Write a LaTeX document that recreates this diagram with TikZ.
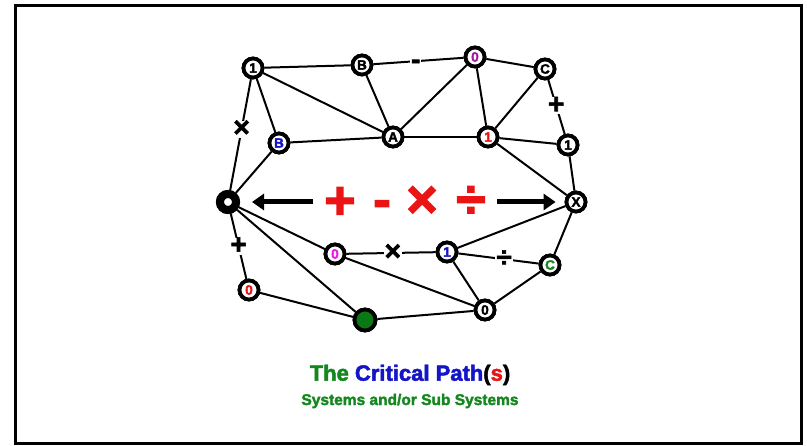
\documentclass[tikz,border=0pt]{standalone}
\usepackage{fontspec}
\setmainfont{Liberation Sans}[BoldFeatures={FakeBold=2.2}]
\usetikzlibrary{arrows.meta}
\definecolor{cpgreen}{RGB}{20,135,30}
\definecolor{cpblue}{RGB}{20,20,200}
\definecolor{cpred}{RGB}{235,20,20}
\definecolor{cppurple}{RGB}{160,30,160}
\definecolor{cpmagenta}{RGB}{240,20,240}
\definecolor{cpdkgreen}{RGB}{10,120,20}
\begin{document}
\begin{tikzpicture}[x=1pt,y=-1pt,
  vtx/.style={circle,draw=black,line width=3.8pt,fill=white,minimum size=19pt,inner sep=0pt,
    font=\fontsize{13.5}{13.5}\selectfont\bfseries},
  startvtx/.style={circle,draw=black,line width=8pt,fill=white,minimum size=16pt,inner sep=0pt},
  greenvtx/.style={circle,draw=black,line width=3.8pt,fill=cpdkgreen,minimum size=21pt,inner sep=0pt},
  edge/.style={line width=2pt},
  oplab/.style={fill=white,inner sep=1pt,font=\fontsize{28}{28}\selectfont\bfseries,
    text height=15pt,text depth=0pt},
  bigop/.style={text=cpred,inner sep=0pt,font=\fontsize{54}{54}\selectfont\bfseries},
  bigarrow/.style={line width=5pt,-{Triangle[length=12pt,width=16pt]}}
]
\useasboundingbox (0,0) rectangle (807,446);
\fill[white] (0,0) rectangle (807,446);
\draw[line width=3pt] (15.5,5.5) rectangle (801.5,443.5);

% nodes
\node[vtx] (t1) at (253,68) {1};
\node[vtx] (tB) at (362,65) {B};
\node[vtx,text=cppurple] (t0) at (475,57) {0};
\node[vtx] (tC) at (545,69) {C};
\node[vtx,text=cpblue] (mB) at (279,143) {B};
\node[vtx] (mA) at (393,137) {A};
\node[vtx,text=cpred] (m1) at (488,137) {1};
\node[vtx] (r1) at (568,145) {1};
\node[startvtx] (s) at (228,202) {};
\node[vtx] (x) at (576,202) {X};
\node[vtx,text=cpmagenta] (b0m) at (335,254) {0};
\node[vtx,text=cpblue] (b1) at (447,252) {1};
\node[vtx,text=cpgreen] (bC) at (550,265) {C};
\node[vtx,text=cpred] (b0r) at (249,290) {0};
\node[greenvtx] (g) at (365,320) {};
\node[vtx] (b0) at (485,310) {0};

% edges
\draw[edge] (t1) -- (tB);
\draw[edge] (tB) -- node[oplab,pos=0.47]{-} (t0);
\draw[edge] (t0) -- (tC);
\draw[edge] (t1) -- (mB);
\draw[edge] (t1) -- (mA);
\draw[edge] (tB) -- (mA);
\draw[edge] (t0) -- (mA);
\draw[edge] (t0) -- (m1);
\draw[edge] (tC) -- (m1);
\draw[edge] (tC) -- node[oplab,pos=0.48]{+} (r1);
\draw[edge] (mB) -- (mA);
\draw[edge] (mA) -- (m1);
\draw[edge] (m1) -- (r1);
\draw[edge] (m1) -- (x);
\draw[edge] (r1) -- (x);
\draw[edge] (t1) -- node[oplab,pos=0.45]{×} (s);
\draw[edge] (mB) -- (s);
\draw[edge] (s) -- node[oplab,pos=0.5]{+} (b0r);
\draw[edge] (s) -- (b0m);
\draw[edge] (s) -- (g);
\draw[edge] (b0m) -- node[oplab,pos=0.52]{×} (b1);
\draw[edge] (b1) -- node[oplab,pos=0.57]{÷} (bC);
\draw[edge] (b1) -- (x);
\draw[edge] (bC) -- (x);
\draw[edge] (b0m) -- (b0);
\draw[edge] (b1) -- (b0);
\draw[edge] (b0) -- (bC);
\draw[edge] (b0r) -- (g);
\draw[edge] (g) -- (b0);

% redraw nodes on top of edge ends
\node[vtx] at (t1) {1};
\node[vtx] at (tB) {B};
\node[vtx,text=cppurple] at (t0) {0};
\node[vtx] at (tC) {C};
\node[vtx,text=cpblue] at (mB) {B};
\node[vtx] at (mA) {A};
\node[vtx,text=cpred] at (m1) {1};
\node[vtx] at (r1) {1};
\node[startvtx] at (s) {};
\node[vtx] at (x) {X};
\node[vtx,text=cpmagenta] at (b0m) {0};
\node[vtx,text=cpblue] at (b1) {1};
\node[vtx,text=cpgreen] at (bC) {C};
\node[vtx,text=cpred] at (b0r) {0};
\node[greenvtx] at (g) {};
\node[vtx] at (b0) {0};

% central operators
\node[bigop] (op1) at (340,203) {+};
\node[bigop] (op2) at (382,209) {-};
\node[bigop] (op3) at (422,202) {×};
\node[bigop] (op4) at (471,202) {÷};
\coordinate (la) at (313,202);
\coordinate (ra) at (497,202);
\draw[bigarrow,shorten >=12pt] (la) -- (s);
\draw[bigarrow,shorten >=9pt] (ra) -- (x.west);

% titles
\node[font=\fontsize{22}{22}\selectfont\bfseries] (title) at (410,375)
  {\textcolor{cpgreen}{The} \textcolor{cpblue}{Critical Path}(\textcolor{cpred}{s})};
\node[font=\fontsize{15.5}{15.5}\selectfont\bfseries,text=cpgreen] (sub) at (410,401)
  {Systems and/or Sub Systems};
\end{tikzpicture}
\end{document}
